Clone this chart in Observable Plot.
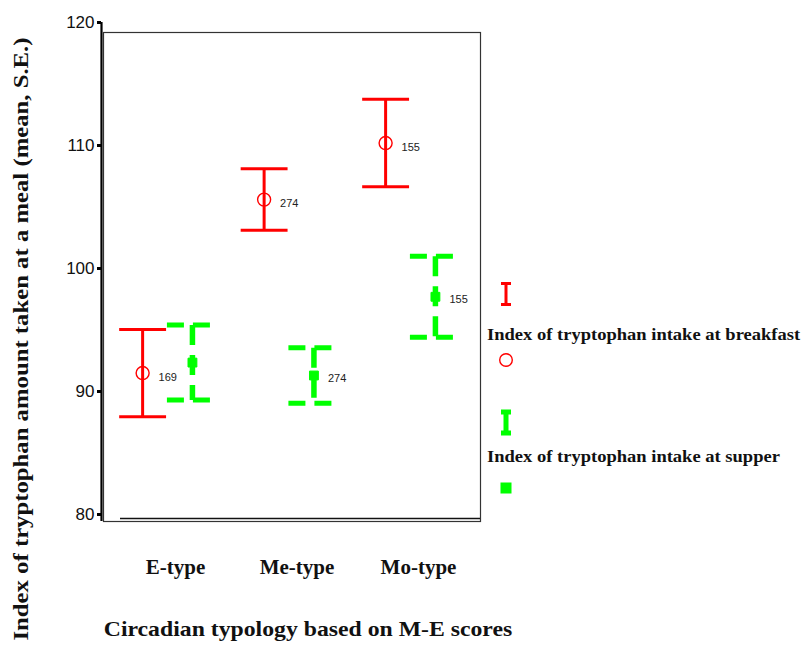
<!DOCTYPE html>
<html><head><meta charset="utf-8">
<script src="https://cdn.jsdelivr.net/npm/d3@7"></script>
<script src="https://cdn.jsdelivr.net/npm/@observablehq/plot@0.6"></script>
<style>
body{margin:0;background:#fff;}
#wrap{position:relative;width:804px;height:645px;overflow:hidden;}
.t{position:absolute;font-family:"Liberation Serif","Times New Roman",serif;font-weight:bold;color:#111;white-space:nowrap;line-height:1;}
</style></head><body><div id="wrap"></div>
<script>
const categories = ["E-type", "Me-type", "Mo-type"];
const breakfastMean = [91.5, 105.6, 110.2];
const breakfastSE = [3.55, 2.5, 3.55];
const breakfastN = [169, 274, 155];
const supperMean = [92.35, 91.3, 97.7];
const supperSE = [3.05, 2.25, 3.3];
const supperN = [null, 274, 155];
const yTicks = [80, 90, 100, 110, 120];
const xTitle = "Circadian typology based on M-E scores";
const yTitle = "Index of tryptophan amount taken at a meal (mean, S.E.)";
const legendLabels = ["Index of tryptophan intake at breakfast", "Index of tryptophan intake at supper"];

const RED = "#ff0000", GREEN = "#00ff00";
const off = 0.205;
const breakfast = categories.map((c, i) => ({cat: c, x: i - off, mean: breakfastMean[i], lo: breakfastMean[i] - breakfastSE[i], hi: breakfastMean[i] + breakfastSE[i], n: breakfastN[i]}));
const supper = categories.map((c, i) => ({cat: c, x: i + off, mean: supperMean[i], lo: supperMean[i] - supperSE[i], hi: supperMean[i] + supperSE[i], n: supperN[i]}));
const catRows = categories.map((c, i) => ({cat: c, x: i}));

const capR = 0.193;
const capsB = breakfast.flatMap(d => [{x1: d.x - capR, x2: d.x + capR, y: d.lo}, {x1: d.x - capR, x2: d.x + capR, y: d.hi}]);
const capsS = supper.flatMap(d => [{x1: d.x - 0.21, x2: d.x + 0.15, y: d.lo}, {x1: d.x - 0.21, x2: d.x + 0.15, y: d.hi}]);

const plot = Plot.plot({
  width: 804, height: 645,
  marginLeft: 103, marginRight: 324, marginTop: 22, marginBottom: 124,
  style: {fontFamily: "'Liberation Sans', Arial, sans-serif", background: "white"},
  x: {domain: [-0.527, 2.576], axis: null},
  y: {domain: [79.43, 120], axis: null},
  marks: [
    Plot.frame({stroke: "#333", strokeWidth: 1.2, insetTop: 10}),
    Plot.ruleY([80], {stroke: "#111", strokeWidth: 1.5, dy: 4, insetLeft: 17}),
    Plot.ruleX([-0.527], {stroke: "#000", strokeWidth: 2.2, dx: -2}),
    Plot.axisY({ticks: yTicks, tickSize: 4, strokeWidth: 3, tickPadding: 3, dx: -2, fontSize: 17, fill: "#111", label: null}),
    // breakfast error bars
    Plot.ruleX(breakfast, {x: "x", y1: "lo", y2: "hi", stroke: RED, strokeWidth: 3}),
    Plot.link(capsB, {x1: "x1", x2: "x2", y1: "y", y2: "y", stroke: RED, strokeWidth: 3}),
    Plot.dot(breakfast, {x: "x", y: "mean", r: 6.5, stroke: RED, strokeWidth: 1.4, fill: "none"}),
    // supper error bars
    Plot.link(supper, {x1: "x", x2: "x", y1: "hi", y2: "lo", stroke: GREEN, strokeWidth: 5.5, strokeDasharray: "20,10"}),
    Plot.link(capsS, {x1: "x1", x2: "x2", y1: "y", y2: "y", stroke: GREEN, strokeWidth: 5, strokeDasharray: "17,9"}),
    Plot.dot(supper, {x: "x", y: "mean", symbol: "square", r: 5, fill: GREEN, stroke: GREEN, strokeWidth: 1, strokeLinejoin: "round"}),
    // counts
    Plot.text(breakfast, {x: "x", y: "mean", text: "n", dx: 16, dy: 4, textAnchor: "start", fontSize: 11, fill: "#222"}),
    Plot.text(supper.filter(d => d.n != null), {x: "x", y: "mean", text: "n", dx: 14, dy: 3, textAnchor: "start", fontSize: 11, fill: "#222"}),
    // category labels
    Plot.text(catRows, {x: "x", text: "cat", frameAnchor: "bottom", dy: 52, dx: 8, fontSize: 21, fontWeight: "bold", fontFamily: "'Liberation Serif', 'Times New Roman', serif", fill: "#111"})
  ]
});

const wrap = document.getElementById("wrap");
wrap.appendChild(plot);

function addText(txt, css) {
  const d = document.createElement("div");
  d.className = "t";
  d.textContent = txt;
  Object.assign(d.style, css);
  wrap.appendChild(d);
}
addText(xTitle, {left: "308px", top: "629px", fontSize: "21px", transform: "translate(-50%,-50%) scaleX(1.13)"});
addText(yTitle, {left: "22px", top: "339px", fontSize: "21.5px", transform: "translate(-50%,-50%) rotate(-90deg) scaleX(1.15)"});
addText(legendLabels[0], {left: "487px", top: "334px", fontSize: "17px", transformOrigin: "left center", transform: "translateY(-50%) scaleX(1.09)"});
addText(legendLabels[1], {left: "487px", top: "456px", fontSize: "17px", transformOrigin: "left center", transform: "translateY(-50%) scaleX(1.09)"});

// legend symbols
const ns = "http://www.w3.org/2000/svg";
const lg = document.createElementNS(ns, "svg");
lg.setAttribute("width", 30); lg.setAttribute("height", 240);
lg.style.position = "absolute"; lg.style.left = "491px"; lg.style.top = "270px";
lg.innerHTML = `
  <path d="M10,13.5H20M15,13.5V34.5M10,34.5H20" stroke="${RED}" stroke-width="3" fill="none"/>
  <circle cx="15" cy="90" r="6.3" stroke="${RED}" stroke-width="1.4" fill="none"/>
  <path d="M10,142H20M15,142V163M10,163H20" stroke="${GREEN}" stroke-width="5" fill="none"/>
  <rect x="9.5" y="212.5" width="11" height="11" fill="${GREEN}"/>`;
wrap.appendChild(lg);
</script>
</body></html>
